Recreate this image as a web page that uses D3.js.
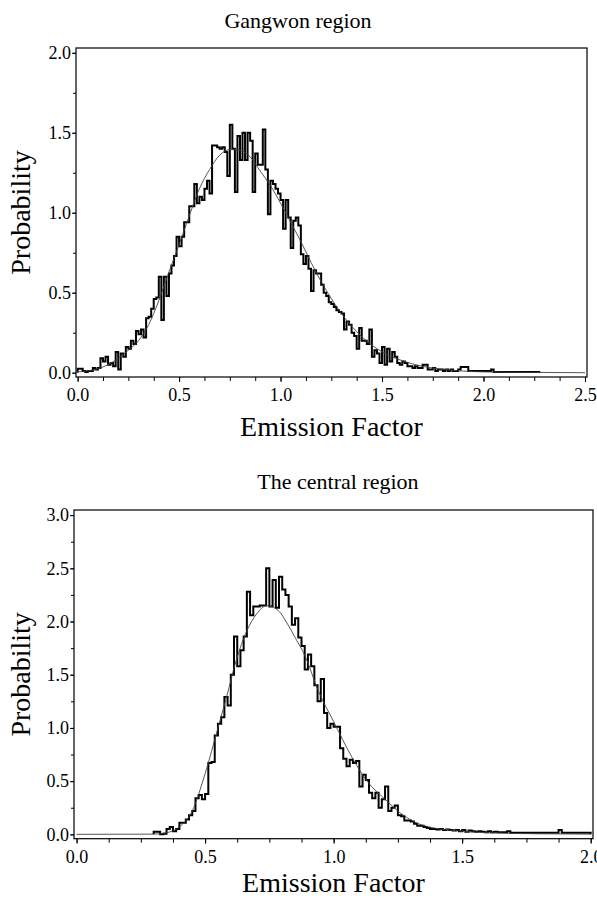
<!DOCTYPE html>
<html>
<head>
<meta charset="utf-8">
<script src="https://cdn.jsdelivr.net/npm/d3@7"></script>
<style>
  body { margin: 0; background: #fff; }
  svg text { font-family: "Liberation Serif", "Times New Roman", serif; fill: #000; }
</style>
</head>
<body>
<div id="chart"></div>
<script>
// ---- data ----
const xLabel = "Emission Factor";
const yLabel = "Probability";

const gangwonTitle = "Gangwon region";
const gangwonBinStart = 0;
const gangwonBinWidth = 0.0125;
const gangwonHist = [
    0.025, 0.025, 0.01, 0.005, 0.01, 0.01, 0.03, 0.02,
    0.03, 0.09, 0.07, 0.10, 0.05, 0.06, 0.04, 0.13,
    0.02, 0.12, 0.10, 0.16, 0.15, 0.20, 0.18, 0.26,
    0.24, 0.27, 0.22, 0.34, 0.35, 0.40, 0.46, 0.47,
    0.60, 0.33, 0.60, 0.48, 0.62, 0.67, 0.73, 0.85,
    0.79, 0.85, 0.94, 0.94, 1.04, 1.04, 1.18, 1.06,
    1.10, 1.08, 1.15, 1.20, 1.12, 1.42, 1.42, 1.41,
    1.40, 1.41, 1.38, 1.23, 1.55, 1.40, 1.13, 1.48,
    1.33, 1.50, 1.33, 1.50, 1.45, 1.13, 1.37, 1.30,
    1.30, 1.52, 1.27, 0.99, 1.20, 1.18, 1.15, 1.12,
    1.08, 0.90, 1.08, 0.97, 0.78, 0.95, 0.97, 0.92,
    0.74, 0.68, 0.73, 0.65, 0.51, 0.64, 0.62, 0.62,
    0.55, 0.50, 0.48, 0.44, 0.43, 0.41, 0.39, 0.38,
    0.37, 0.27, 0.32, 0.30, 0.25, 0.23, 0.15, 0.28,
    0.20, 0.20, 0.18, 0.27, 0.10, 0.14, 0.12, 0.06,
    0.16, 0.05, 0.15, 0.07, 0.13, 0.10, 0.06, 0.05,
    0.07, 0.06, 0.04, 0.04, 0.03, 0.04, 0.03, 0.03,
    0.05, 0.05, 0.02, 0.02, 0.03, 0.01, 0.02, 0.02,
    0.01, 0.02, 0.01, 0.02, 0.01, 0.01, 0.02, 0.035,
    0.035, 0.035, 0.01, 0.01, 0.01, 0.01, 0.01, 0.01,
    0.01, 0.01, 0.01, 0.02, 0.005, 0.005, 0.005, 0.005,
    0.005, 0.005, 0.005, 0.005, 0.005, 0.005, 0.005, 0.005,
    0.005, 0.005, 0.005, 0.005, 0.005, 0.005
];
const gangwonFitX = [0, 0.1, 0.15, 0.2, 0.25, 0.3, 0.35, 0.4, 0.45, 0.5, 0.55, 0.6, 0.65, 0.7, 0.75, 0.8,
    0.85, 0.9, 0.95, 1.0, 1.05, 1.1, 1.15, 1.2, 1.3, 1.4, 1.5, 1.6, 1.7, 1.8, 1.9, 2.0, 2.2, 2.5];
const gangwonFitY = [0.005, 0.025, 0.05, 0.09, 0.14, 0.2, 0.3, 0.45, 0.63, 0.8, 0.98, 1.15, 1.27, 1.36, 1.395, 1.39,
    1.35, 1.26, 1.17, 1.06, 0.94, 0.82, 0.69, 0.57, 0.37, 0.225, 0.13, 0.075, 0.04, 0.02, 0.01, 0.005, 0.002, 0];
const gangwonXTicks = [0, 0.5, 1.0, 1.5, 2.0, 2.5];
const gangwonYTicks = [0, 0.5, 1.0, 1.5, 2.0];

const centralTitle = "The central region";
const centralBinStart = 0.3;
const centralBinWidth = 0.0125;
const centralHist = [
    0.025, 0.025, 0.0, 0.005, 0.05, 0.07, 0.03, 0.05,
    0.11, 0.11, 0.14, 0.18, 0.22, 0.34, 0.37, 0.33,
    0.38, 0.67, 0.68, 0.93, 1.04, 1.10, 1.29, 1.21,
    1.50, 1.86, 1.58, 1.73, 1.86, 2.28, 2.06, 2.14,
    2.14, 2.15, 2.15, 2.50, 2.14, 2.39, 2.13, 2.42,
    2.30, 2.25, 2.14, 1.97, 2.03, 1.85, 1.77, 1.55,
    1.69, 1.58, 1.40, 1.25, 1.46, 1.14, 1.00, 1.04,
    1.01, 1.01, 0.81, 0.71, 0.64, 0.70, 0.67, 0.69,
    0.45, 0.56, 0.51, 0.39, 0.34, 0.39, 0.25, 0.33,
    0.45, 0.22, 0.25, 0.27, 0.18, 0.17, 0.13, 0.13,
    0.12, 0.10, 0.08, 0.08, 0.07, 0.06, 0.05, 0.05,
    0.045, 0.05, 0.04, 0.045, 0.04, 0.035, 0.04, 0.03,
    0.04, 0.025, 0.035, 0.03, 0.025, 0.03, 0.025, 0.02,
    0.03, 0.02, 0.025, 0.02, 0.02, 0.02, 0.03, 0.015,
    0.015, 0.015, 0.015, 0.015, 0.015, 0.015, 0.015, 0.015,
    0.015, 0.015, 0.015, 0.015, 0.015, 0.015, 0.04, 0.015,
    0.015, 0.015, 0.015, 0.015, 0.015, 0.015, 0.015, 0.015
];
const centralFitX = [0, 0.3, 0.35, 0.4, 0.45, 0.5, 0.55, 0.59, 0.61, 0.66, 0.7, 0.74, 0.79, 0.815, 0.85, 0.89,
    0.94, 1.0, 1.07, 1.13, 1.2, 1.26, 1.33, 1.39, 1.47, 1.6, 1.8, 2.0];
const centralFitY = [0, 0.002, 0.015, 0.07, 0.22, 0.57, 1.0, 1.35, 1.54, 1.9, 2.07, 2.15, 2.09, 2.0, 1.85, 1.67,
    1.35, 1.06, 0.73, 0.5, 0.33, 0.2, 0.1, 0.06, 0.035, 0.015, 0.005, 0.002];
const centralXTicks = [0, 0.5, 1.0, 1.5, 2.0];
const centralYTicks = [0, 0.5, 1.0, 1.5, 2.0, 2.5, 3.0];

// ---- drawing ----
const serif = '"Liberation Serif", "Times New Roman", serif';

const svg = d3.select("#chart").append("svg")
    .attr("width", 597)
    .attr("height", 899);

function drawPanel(p) {
    const x = d3.scaleLinear().domain(p.xDomain).range([p.left, p.right]);
    const y = d3.scaleLinear().domain(p.yDomain).range([p.bottom, p.top]);
    const g = svg.append("g");

    const clipId = "clip-" + p.id;
    g.append("clipPath").attr("id", clipId)
        .append("rect")
        .attr("x", p.left).attr("y", p.top)
        .attr("width", p.right - p.left).attr("height", p.bottom - p.top);

    // minor ticks
    const xMinor = d3.range(0, p.xTicks[p.xTicks.length - 1] + 1e-9, 0.125);
    const yMinor = d3.range(0, p.yTicks[p.yTicks.length - 1] + 1e-9, 0.25);

    g.append("g")
        .attr("transform", `translate(0,${p.bottom})`)
        .call(d3.axisBottom(x).tickValues(xMinor).tickSize(4).tickFormat(""))
        .call(s => s.select(".domain").remove());
    g.append("g")
        .attr("transform", `translate(${p.left},0)`)
        .call(d3.axisLeft(y).tickValues(yMinor).tickSize(3).tickFormat(""))
        .call(s => s.select(".domain").remove());

    // major ticks + labels
    const xa = g.append("g")
        .attr("transform", `translate(0,${p.bottom})`)
        .call(d3.axisBottom(x).tickValues(p.xTicks).tickSize(5).tickPadding(p.xPad).tickFormat(d3.format(".1f")))
        .attr("font-family", serif);
    xa.select(".domain").remove();

    const ya = g.append("g")
        .attr("transform", `translate(${p.left},0)`)
        .call(d3.axisLeft(y).tickValues(p.yTicks).tickSize(4).tickPadding(1).tickFormat(d3.format(".1f")))
        .attr("font-family", serif);
    ya.select(".domain").remove();

    g.selectAll(".tick text")
        .style("font-family", serif)
        .style("font-size", "18px")
        .attr("fill", "#000");
    g.selectAll(".tick line").attr("stroke", "#000").attr("stroke-width", 1);

    // frame
    g.append("rect")
        .attr("x", p.left).attr("y", p.top)
        .attr("width", p.right - p.left).attr("height", p.bottom - p.top)
        .attr("fill", "none").attr("stroke", "#000").attr("stroke-width", 1.2);

    // histogram outline
    const n = p.hist.length;
    const pts = [[p.binStart, 0]];
    p.hist.forEach((v, i) => pts.push([p.binStart + i * p.binWidth, v]));
    pts.push([p.binStart + n * p.binWidth, p.hist[n - 1]]);
    pts.push([p.binStart + n * p.binWidth, 0]);

    const step = d3.line()
        .x(d => x(d[0]))
        .y(d => y(d[1]))
        .curve(d3.curveStepAfter);

    const plot = g.append("g").attr("clip-path", `url(#${clipId})`);

    plot.append("path")
        .attr("d", step(pts))
        .attr("fill", "none")
        .attr("stroke", "#000")
        .attr("stroke-width", 2)
        .attr("stroke-linejoin", "miter");

    // fitted curve
    const fit = d3.line()
        .x(d => x(d[0]))
        .y(d => y(d[1]))
        .curve(d3.curveMonotoneX);

    plot.append("path")
        .attr("d", fit(p.fitX.map((v, i) => [v, p.fitY[i]])))
        .attr("fill", "none")
        .attr("stroke", "#444")
        .attr("stroke-width", 0.9);

    // titles
    svg.append("text")
        .attr("x", p.titleX).attr("y", p.titleY)
        .attr("text-anchor", "middle")
        .style("font-size", "22px")
        .text(p.title);

    svg.append("text")
        .attr("x", (p.left + p.right) / 2).attr("y", p.xLabelY)
        .attr("text-anchor", "middle")
        .style("font-size", "28px")
        .text(xLabel);

    svg.append("text")
        .attr("transform", `translate(30,${(p.top + p.bottom) / 2}) rotate(-90)`)
        .attr("text-anchor", "middle")
        .style("font-size", "28px")
        .text(yLabel);
}

drawPanel({
    id: "gangwon", title: gangwonTitle,
    hist: gangwonHist, binStart: gangwonBinStart, binWidth: gangwonBinWidth,
    fitX: gangwonFitX, fitY: gangwonFitY,
    xTicks: gangwonXTicks, yTicks: gangwonYTicks,
    xDomain: [-0.008, 2.51], yDomain: [-0.027, 2.03],
    left: 76, right: 587, top: 48, bottom: 377,
    xPad: 6, titleX: 298, titleY: 28, xLabelY: 436
});

drawPanel({
    id: "central", title: centralTitle,
    hist: centralHist, binStart: centralBinStart, binWidth: centralBinWidth,
    fitX: centralFitX, fitY: centralFitY,
    xTicks: centralXTicks, yTicks: centralYTicks,
    xDomain: [-0.01, 2.009], yDomain: [-0.041, 3.048],
    left: 74, right: 593, top: 510, bottom: 838.7,
    xPad: 7, titleX: 338, titleY: 489, xLabelY: 892
});
</script>
</body>
</html>
